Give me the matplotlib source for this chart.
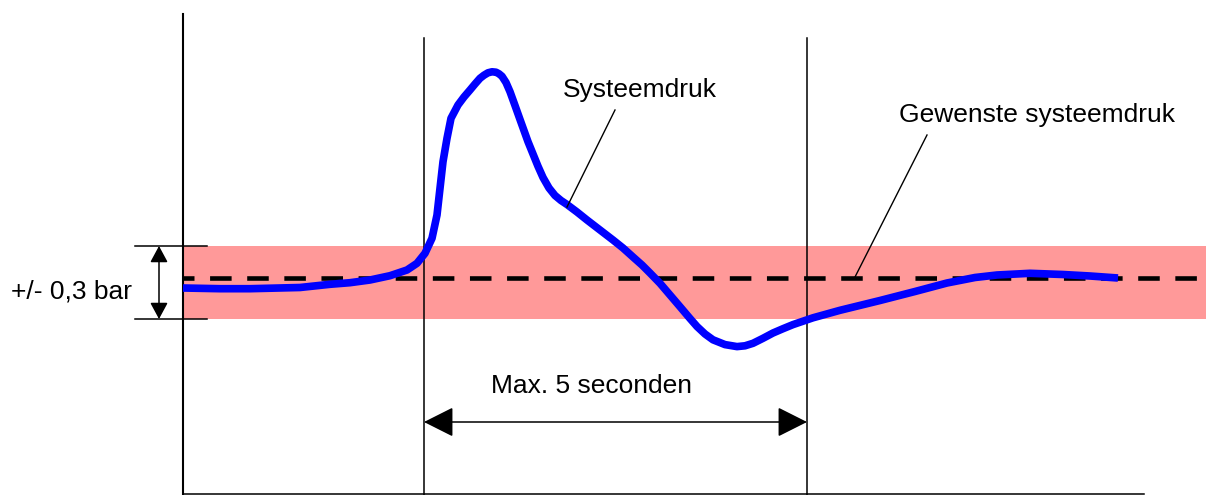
"""
Systeemdruk schema: druk schiet door en stabiliseert binnen de tolerantieband.
"""
import matplotlib
matplotlib.use('Agg')
import matplotlib.pyplot as plt
from matplotlib.patches import FancyArrowPatch

plt.rcParams['font.family'] = ['Liberation Sans', 'DejaVu Sans']

druk_x = [183, 220, 250, 300, 330, 350, 370, 390, 407, 417, 425, 432, 437,
          440, 443, 447, 451, 458, 464, 470, 475, 480, 484, 488, 492, 496,
          499, 502, 506, 510, 515, 520, 528, 533, 538, 543, 549, 555, 561,
          567, 577, 587, 600, 613, 623, 633, 642, 650, 660, 670, 680, 690,
          697, 705, 713, 725, 737, 745, 753, 763, 773, 783, 793, 813, 840,
          880, 915, 947, 975, 997, 1030, 1063, 1090, 1118]
druk_y = [288, 288.7, 288.7, 287.5, 284.3, 282.7, 280, 275.7, 270, 263.3,
          253.3, 238.3, 215, 188.3, 161.7, 138.3, 118.3, 105, 97, 90, 84,
          78.3, 75.2, 72.8, 71.8, 72.2, 73.8, 76.3, 82.5, 91.7, 105.5, 119.5,
          141.7, 154, 166.3, 177.5, 188, 195.5, 200.5, 204.5, 212, 220, 230,
          240, 248, 257, 265, 273, 283.3, 295, 306.7, 318.5, 326.5, 334,
          339.8, 344.6, 346.6, 345.8, 343.3, 338.3, 333, 328.7, 324.6,
          317.8, 310.3, 300.5, 291.5, 283, 277.5, 275, 273.3, 274.5, 276, 278]

gewenst = 278          # gewenste systeemdruk
band = (246, 319)      # +/- 0,3 bar
t_start, t_piek, t_eind = 183, 424, 807

fig = plt.figure(figsize=(12.06, 4.95), dpi=100)
ax = fig.add_axes([0, 0, 1, 1])
ax.set_xlim(0, 1206)
ax.set_ylim(495, 0)
ax.axis('off')

# tolerantieband
ax.fill_between([t_start, 1206], band[0], band[1], color='#ff9999', lw=0, zorder=1)

# tijdlijnen
ax.plot([t_start, t_start], [14, 495], color='black', lw=1.5, zorder=2)
ax.plot([t_piek, t_piek], [38, 495], color='black', lw=1.1, zorder=2)
ax.plot([t_eind, t_eind], [38, 495], color='black', lw=1.1, zorder=2)
ax.plot([t_start, 1144], [493.5, 493.5], color='black', lw=1.1, zorder=2)

# gewenste druk
ax.plot([t_start, 1206], [gewenst, gewenst], color='black', lw=3.3,
        linestyle=(2.3, (4.7, 3.4)), zorder=3)

# systeemdruk
ax.plot(druk_x, druk_y, color='#0000ff', lw=5.5, solid_capstyle='butt',
        solid_joinstyle='round', zorder=4)

# band maat
ax.plot([135, 207], [band[0], band[0]], color='black', lw=1.1)
ax.plot([135, 207], [band[1], band[1]], color='black', lw=1.1)
ax.add_patch(FancyArrowPatch((159, band[0]), (159, band[1]),
                             arrowstyle='<|-|>,head_length=10,head_width=5.4',
                             mutation_scale=1, color='black', lw=1.1,
                             shrinkA=0, shrinkB=0))
ax.text(11, 299, '+/- 0,3 bar', fontsize=19, ha='left', va='baseline')

# max. 5 seconden
ax.add_patch(FancyArrowPatch((t_piek, 422), (t_eind, 422),
                             arrowstyle='<|-|>,head_length=18.7,head_width=9.4',
                             mutation_scale=1, color='black', lw=1.1,
                             shrinkA=0, shrinkB=0))
ax.text(491, 393, 'Max. 5 seconden', fontsize=19, ha='left', va='baseline')

# labels
ax.plot([615, 567], [110, 207], color='black', lw=1.0, zorder=5)
ax.text(563, 97, 'Systeemdruk', fontsize=19, ha='left', va='baseline')
ax.plot([927, 855], [135, 277], color='black', lw=1.0, zorder=5)
ax.text(899, 122, 'Gewenste systeemdruk', fontsize=19, ha='left', va='baseline')

fig.savefig('out.png', dpi=100)
